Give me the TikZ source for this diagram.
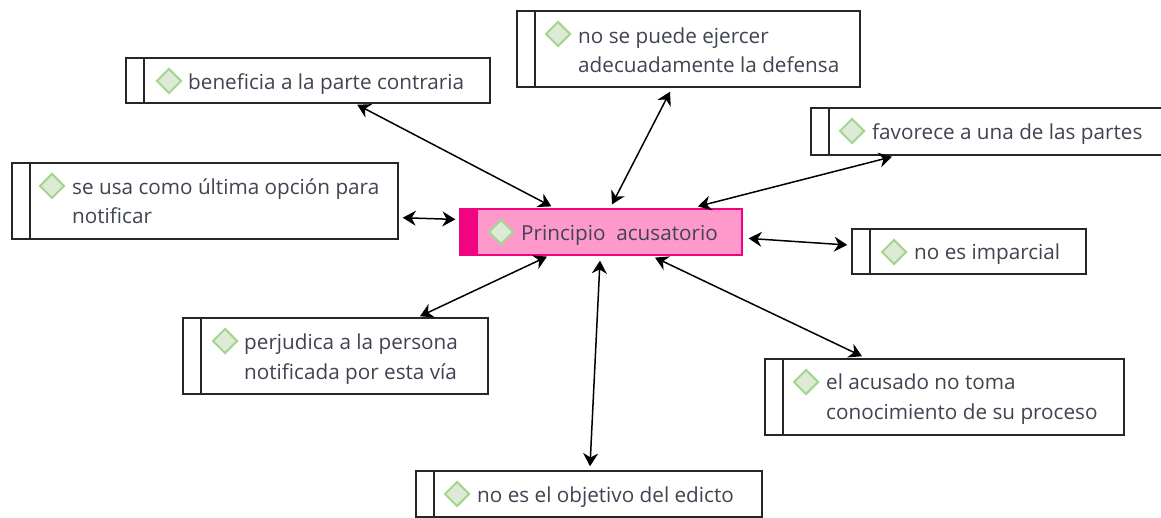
\documentclass[tikz,border=0pt]{standalone}
\usepackage{fontspec}
\setmainfont{Open Sans}
\usetikzlibrary{arrows.meta,shapes.geometric}
\definecolor{ink}{HTML}{3F4450}
\definecolor{hubfill}{HTML}{FF99CC}
\definecolor{hubline}{HTML}{F0047F}
\definecolor{dfill}{HTML}{DDEBD6}
\definecolor{dline}{HTML}{A5D690}
\tikzset{
  box/.style={draw=black!85,line width=1.5pt,fill=white,rectangle,inner sep=0pt,
    path picture={\draw[black!85,line width=2.2pt] ([xshift=18pt]path picture bounding box.north west)--([xshift=18pt]path picture bounding box.south west);}},
  hub/.style={draw=hubline,line width=1.2pt,fill=hubfill,rectangle,inner sep=0pt,
    path picture={\fill[hubline] (path picture bounding box.north west) rectangle ([xshift=18pt]path picture bounding box.south west);}},
  txt/.style={anchor=west,align=left,inner sep=0pt,text=ink,font=\fontsize{20.7pt}{29.5pt}\selectfont},
  dia/.style={diamond,draw=dline,fill=dfill,line width=2pt,minimum width=25pt,minimum height=25pt,inner sep=0pt},
  conn/.style={draw=black,line width=1.5pt,{Stealth[length=13pt,width=15pt]}-{Stealth[length=13pt,width=15pt]}}
}
\begin{document}
\begin{tikzpicture}[x=1pt,y=-1pt]
\useasboundingbox (0,0) rectangle (1161,518);
\clip (0,0) rectangle (1161,518);
\node[box,minimum width=364pt,minimum height=45pt] (a) at (308,80.5) {};
\node[box,minimum width=343pt,minimum height=76pt] (b) at (688.5,49) {};
\node[box,minimum width=360pt,minimum height=47pt] (c) at (991,131.5) {};
\node[box,minimum width=386pt,minimum height=76pt] (d) at (205,201) {};
\node[hub,minimum width=282pt,minimum height=46pt] (h) at (601,232) {};
\node[box,minimum width=234pt,minimum height=45pt] (e) at (969,251.5) {};
\node[box,minimum width=305pt,minimum height=76pt] (f) at (335.5,356) {};
\node[box,minimum width=359pt,minimum height=76pt] (g) at (944.5,397) {};
\node[box,minimum width=346pt,minimum height=46pt] (i) at (589,494) {};
\node[txt] (ta) at (188,84) {beneficia a la parte contraria};
\node[txt] (tb) at (578,50) {no se puede ejercer\\adecuadamente la defensa};
\node[txt] (tc) at (872,134) {favorece a una de las partes};
\node[txt] (td) at (72,201) {se usa como última opción para\\notificar};
\node[txt] (th) at (521,235) {Principio~ acusatorio};
\node[txt] (te) at (914,254) {no es imparcial};
\node[txt] (tf) at (244,359) {perjudica a la persona\\notificada por esta vía};
\node[txt] (tg) at (826,399) {el acusado no toma\\conocimiento de su proceso};
\node[txt] (ti) at (477,497) {no es el objetivo del edicto};
\node[dia] (da) at (169,81) {};
\node[dia] (db) at (558,34) {};
\node[dia] (dc) at (852,131) {};
\node[dia] (dd) at (52,186) {};
\node[dia] (dh) at (501,232) {};
\node[dia] (de) at (894,252) {};
\node[dia] (df) at (225,341) {};
\node[dia] (dg) at (806,382) {};
\node[dia] (di) at (457,494) {};
\draw[conn] ([shift={(232,1)}]a.south west) -- ([shift={(92,-2)}]h.north west);
\draw[conn] ([shift={(-18.5,4)}]b.south) -- ([shift={(11,-4)}]h.north);
\draw[conn] ([shift={(-99,1)}]c.south) -- ([shift={(97,-2)}]h.north);
\draw[conn] ([shift={(4,-22)}]d.south east) -- ([shift={(-4,11)}]h.north west);
\draw[conn] ([shift={(6,30)}]h.north east) -- ([shift={(-4,-6.5)}]e.west);
\draw[conn] ([shift={(84.5,-1)}]f.north) -- ([shift={(-54,1)}]h.south);
\draw[conn] ([shift={(-82.5,-2)}]g.north) -- ([shift={(54,2)}]h.south);
\draw[conn] ([shift={(1,-4)}]i.north) -- ([shift={(-1,5)}]h.south);
\end{tikzpicture}
\end{document}
